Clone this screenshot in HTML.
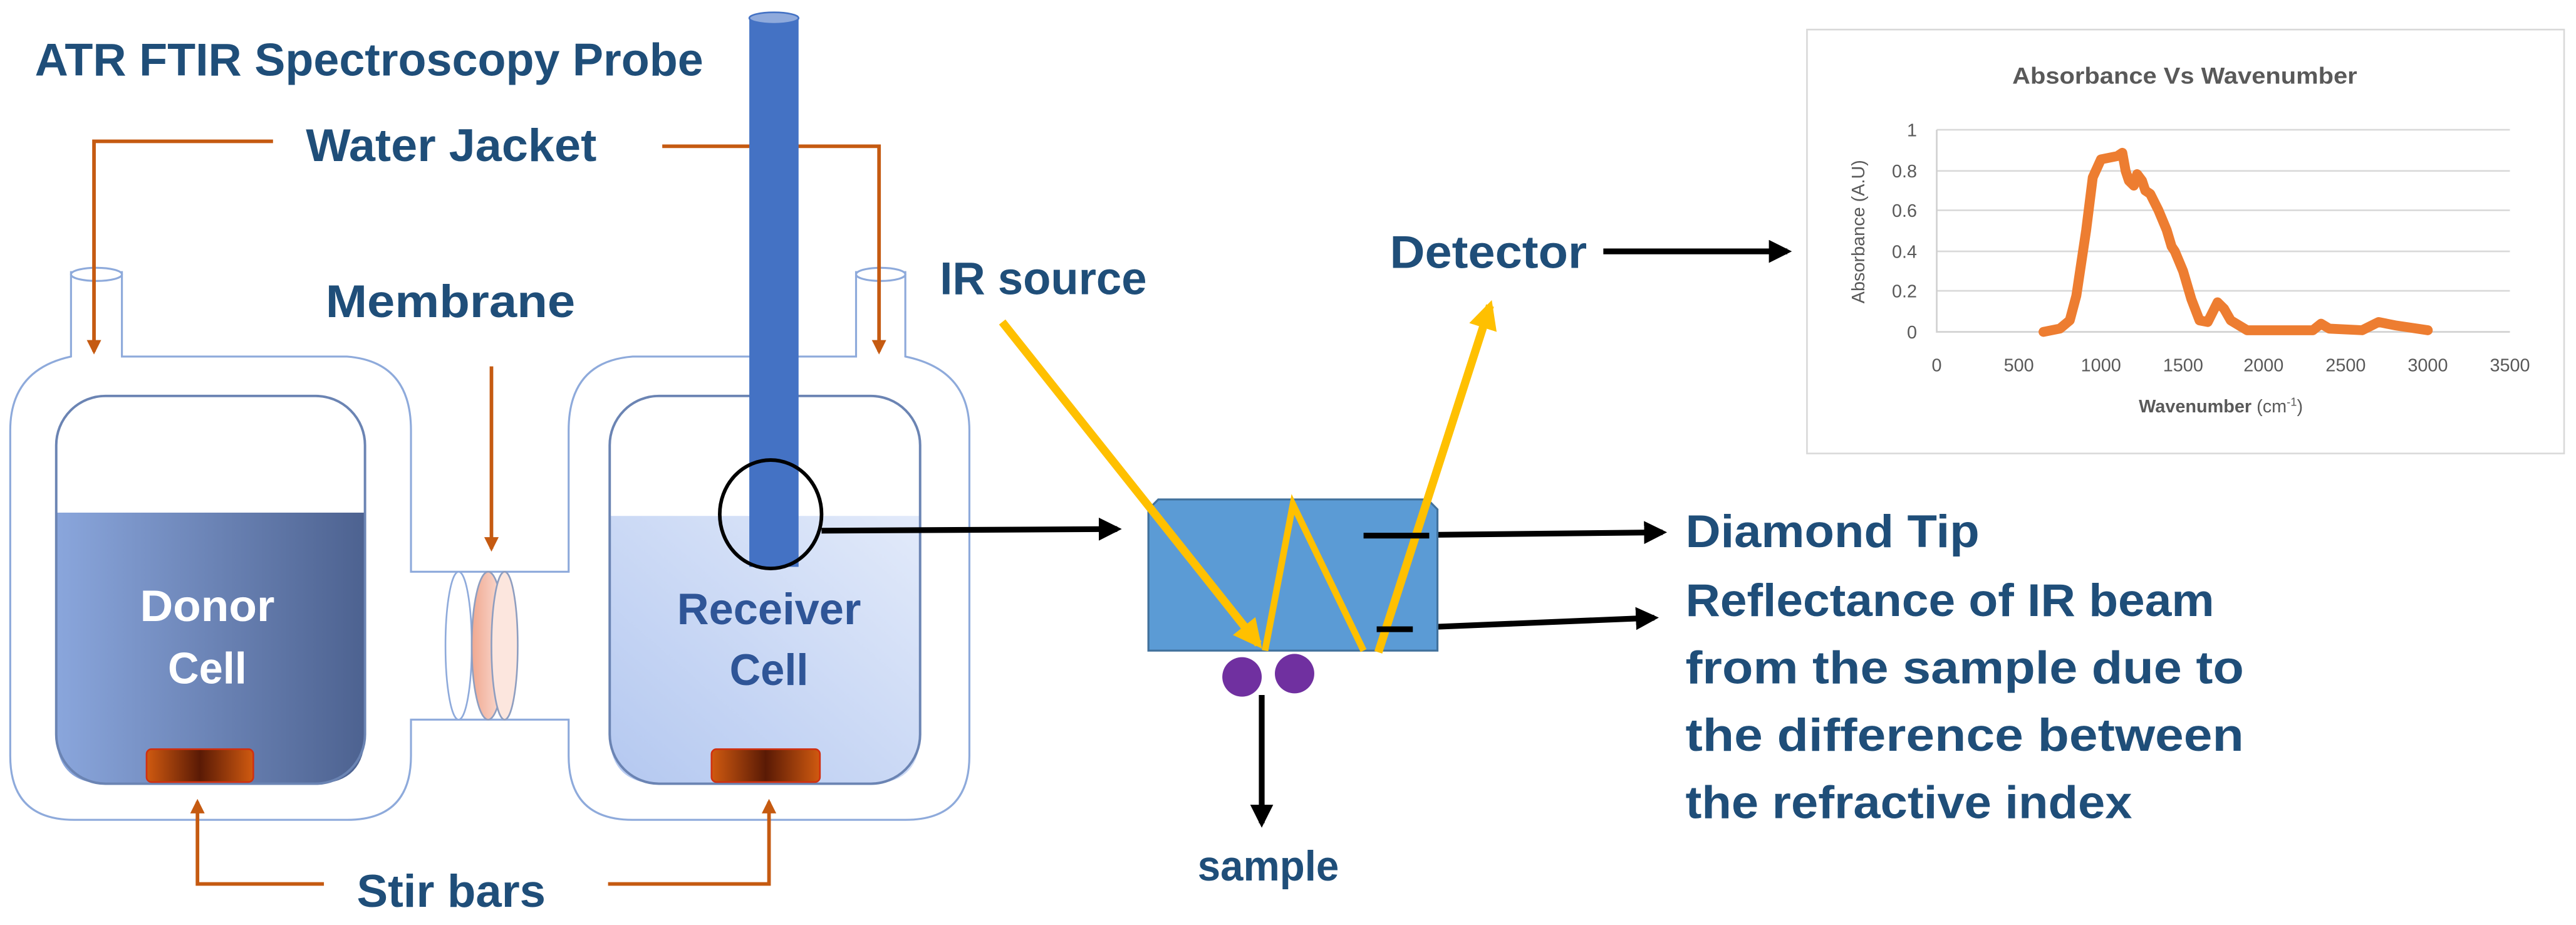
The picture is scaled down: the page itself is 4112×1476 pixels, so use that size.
<!DOCTYPE html>
<html><head><meta charset="utf-8"><style>
html,body{margin:0;padding:0;background:#fff;}
svg{display:block;}
text{font-family:"Liberation Sans",sans-serif;}
</style></head><body>
<svg width="4112" height="1476" viewBox="0 0 1568 563" xmlns="http://www.w3.org/2000/svg">
<defs>
<linearGradient id="donor" x1="0" x2="1" y1="0" y2="0"><stop offset="0" stop-color="#8aa6dc"/><stop offset="1" stop-color="#4d6290"/></linearGradient>
<linearGradient id="recv" x1="0" x2="1" y1="1" y2="0"><stop offset="0" stop-color="#b4c8f0"/><stop offset="1" stop-color="#e2eafa"/></linearGradient>
<linearGradient id="stir" x1="0" x2="1"><stop offset="0" stop-color="#d05a10"/><stop offset="0.5" stop-color="#5a1a05"/><stop offset="1" stop-color="#d05a10"/></linearGradient>
<linearGradient id="memb" x1="0" x2="1"><stop offset="0" stop-color="#f0a890"/><stop offset="1" stop-color="#fbe0d8"/></linearGradient>
<marker id="ao" viewBox="0 0 10 10" refX="8" refY="5" markerWidth="4" markerHeight="4" orient="auto"><path d="M0,0L10,5L0,10z" fill="#c55a11"/></marker>
<marker id="ak" viewBox="0 0 10 10" refX="8" refY="5" markerWidth="4" markerHeight="4" orient="auto"><path d="M0,0L10,5L0,10z" fill="#000"/></marker>
<marker id="ay" viewBox="0 0 10 10" refX="8" refY="5" markerWidth="3.5" markerHeight="3.5" orient="auto"><path d="M0,0L10,5L0,10z" fill="#ffc000"/></marker>
</defs>

<!-- Jackets -->
<g fill="none" stroke="#8eaadb" stroke-width="1.2">
<path d="M43,165 L43,217 Q6,225 6,262 L6,460 Q6,499 45,499 L211,499 Q250,499 250,460 L250,438 L346,438 L346,460 Q346,499 385,499 L551,499 Q590,499 590,460 L590,262 Q590,225 551,217 L551,165"/>
<path d="M74,165 L74,217 L211,217 Q250,220 250,262 L250,348 L346,348 L346,262 Q346,220 385,217 L521,217 L521,165"/>
<ellipse cx="58.5" cy="167" rx="15.5" ry="4"/>
<ellipse cx="536" cy="167" rx="15" ry="4"/>
</g>
<!-- membrane -->
<ellipse cx="279" cy="393" rx="8" ry="45" fill="#fff" stroke="#8eaadb" stroke-width="1"/>
<ellipse cx="297" cy="393" rx="10" ry="45" fill="url(#memb)" stroke="#8e9ec0" stroke-width="1"/>
<ellipse cx="307" cy="393" rx="8" ry="45" fill="#fce6de" stroke="#8e9ec0" stroke-width="1"/>

<!-- donor inner -->
<path d="M34,312 L222,312 L222,447 Q222,477 192,477 L64,477 Q34,477 34,447 Z" fill="url(#donor)"/>
<rect x="34" y="241" width="188" height="236" rx="30" fill="none" stroke="#6b84b3" stroke-width="1.5"/>
<!-- receiver inner -->
<path d="M371,314 L560,314 L560,447 Q560,477 530,477 L401,477 Q371,477 371,447 Z" fill="url(#recv)"/>
<rect x="371" y="241" width="189" height="236" rx="30" fill="none" stroke="#6b84b3" stroke-width="1.5"/>

<!-- stir bars -->
<rect x="89" y="456" width="65" height="20" rx="3" fill="url(#stir)" stroke="#d03010" stroke-width="1"/>
<rect x="433" y="456" width="66" height="20" rx="3" fill="url(#stir)" stroke="#d03010" stroke-width="1"/>

<!-- orange arrows -->
<g fill="none" stroke="#c55a11" stroke-width="2.2">
<path d="M166,86 L57,86 L57,214" marker-end="url(#ao)"/>
<path d="M403,89 L535,89 L535,214" marker-end="url(#ao)"/>
<path d="M299,223 L299,334" marker-end="url(#ao)"/>
<path d="M197,538 L120,538 L120,488" marker-end="url(#ao)"/>
<path d="M370,538 L468,538 L468,488" marker-end="url(#ao)"/>
</g>

<!-- probe -->
<rect x="456" y="11" width="30" height="334" fill="#4472c4"/>
<ellipse cx="471" cy="11" rx="15" ry="3.5" fill="#8faadc" stroke="#4472c4" stroke-width="1"/>
<ellipse cx="469" cy="313" rx="31" ry="33" fill="none" stroke="#000" stroke-width="2.2"/>

<!-- texts -->
<g font-weight="bold" fill="#1f4e79" font-size="28">
<text x="21" y="46" textLength="407" lengthAdjust="spacingAndGlyphs">ATR FTIR Spectroscopy Probe</text>
<text x="186" y="98" textLength="177" lengthAdjust="spacingAndGlyphs">Water Jacket</text>
<text x="198" y="193" textLength="152" lengthAdjust="spacingAndGlyphs">Membrane</text>
<text x="217" y="552" textLength="115" lengthAdjust="spacingAndGlyphs">Stir bars</text>
<text x="572" y="179" textLength="126" lengthAdjust="spacingAndGlyphs">IR source</text>
<text x="846" y="163" textLength="120" lengthAdjust="spacingAndGlyphs">Detector</text>
<text x="729" y="536" textLength="86" lengthAdjust="spacingAndGlyphs" font-size="26">sample</text>
<text x="1026" y="333" textLength="179" lengthAdjust="spacingAndGlyphs">Diamond Tip</text>
<text x="1026" y="375" textLength="322" lengthAdjust="spacingAndGlyphs">Reflectance of IR beam</text>
<text x="1026" y="416" textLength="340" lengthAdjust="spacingAndGlyphs">from the sample due to</text>
<text x="1026" y="457" textLength="340" lengthAdjust="spacingAndGlyphs">the difference between</text>
<text x="1026" y="498" textLength="272" lengthAdjust="spacingAndGlyphs">the refractive index</text>
<text x="126" y="378" text-anchor="middle" fill="#fff" font-size="27" textLength="82" lengthAdjust="spacingAndGlyphs">Donor</text>
<text x="126" y="416" text-anchor="middle" fill="#fff" font-size="27" textLength="48" lengthAdjust="spacingAndGlyphs">Cell</text>
<text x="468" y="380" text-anchor="middle" font-size="27" fill="#2f5597" textLength="112" lengthAdjust="spacingAndGlyphs">Receiver</text>
<text x="468" y="417" text-anchor="middle" font-size="27" fill="#2f5597" textLength="48" lengthAdjust="spacingAndGlyphs">Cell</text>
</g>

<!-- black arrows -->
<g fill="none" stroke="#000" stroke-width="3.5">
<path d="M500,323 L680,322" marker-end="url(#ak)"/>
<path d="M976,153 L1088,153" marker-end="url(#ak)"/>
<path d="M830,326 L1012,324" marker-end="url(#ak)"/>
<path d="M838,383 L1007,376" marker-end="url(#ak)"/>
<path d="M768,423 L768,501" marker-end="url(#ak)"/>
</g>

<!-- diamond tip -->
<path d="M705,304 L869,304 L875,310 L875,396 L699,396 L699,310 Z" fill="#5b9bd5" stroke="#41719c" stroke-width="1.2"/>
<g fill="none" stroke="#ffc000" stroke-linejoin="miter">
<path d="M610,196 L766,392" stroke-width="5" marker-end="url(#ay)"/>
<path d="M770,396 L787,307 L830,396" stroke-width="4"/>
<path d="M839,397 L907,186" stroke-width="5" marker-end="url(#ay)"/>
</g>
<g stroke="#000" stroke-width="3.5"><path d="M830,326 L870,326"/><path d="M838,383 L860,383"/></g>
<circle cx="756" cy="412" r="12" fill="#7030a0"/>
<circle cx="788" cy="410" r="12" fill="#7030a0"/>

<!-- chart -->
<rect x="1100" y="18" width="461" height="258" fill="#fff" stroke="#d9d9d9" stroke-width="1"/>
<text x="1330" y="51" text-anchor="middle" font-size="14" fill="#595959" font-weight="bold" textLength="210" lengthAdjust="spacingAndGlyphs">Absorbance Vs Wavenumber</text>
<g stroke="#d9d9d9" stroke-width="1">
<path d="M1179,79 H1528 M1179,104 H1528 M1179,128 H1528 M1179,153 H1528 M1179,177 H1528"/>
</g>
<path d="M1179,79 V202 H1528" fill="none" stroke="#d0d0d0" stroke-width="1"/>
<g font-size="11" fill="#595959" text-anchor="end">
<text x="1167" y="206">0</text><text x="1167" y="181">0.2</text><text x="1167" y="157">0.4</text><text x="1167" y="132">0.6</text><text x="1167" y="108">0.8</text><text x="1167" y="83">1</text>
</g>
<g font-size="11" fill="#595959" text-anchor="middle">
<text x="1179" y="226">0</text><text x="1229" y="226">500</text><text x="1279" y="226">1000</text><text x="1329" y="226">1500</text><text x="1378" y="226">2000</text><text x="1428" y="226">2500</text><text x="1478" y="226">3000</text><text x="1528" y="226">3500</text>
</g>
<text x="1352" y="251" text-anchor="middle" font-size="11" fill="#595959"><tspan font-weight="bold">Wavenumber</tspan> (cm<tspan font-size="7" dy="-4">-1</tspan><tspan dy="4">)</tspan></text>
<text transform="translate(1135,141) rotate(-90)" text-anchor="middle" font-size="11" fill="#595959">Absorbance (A.U)</text>
<polyline fill="none" stroke="#ed7d31" stroke-width="6" stroke-linejoin="round" stroke-linecap="round"
points="1244,202 1254,200 1260,195 1264,180 1270,140 1274,108 1279,97 1284,96 1289,95 1292,93 1294,104 1296,110 1299,113 1301,106 1304,110 1306,116 1309,118 1314,128 1319,140 1322,150 1324,153 1329,165 1334,182 1339,195 1344,196 1350,184 1354,188 1358,195 1368,201 1408,201 1413,197 1418,200 1438,201 1448,196 1458,198 1478,201"/>
</svg>
</body></html>
